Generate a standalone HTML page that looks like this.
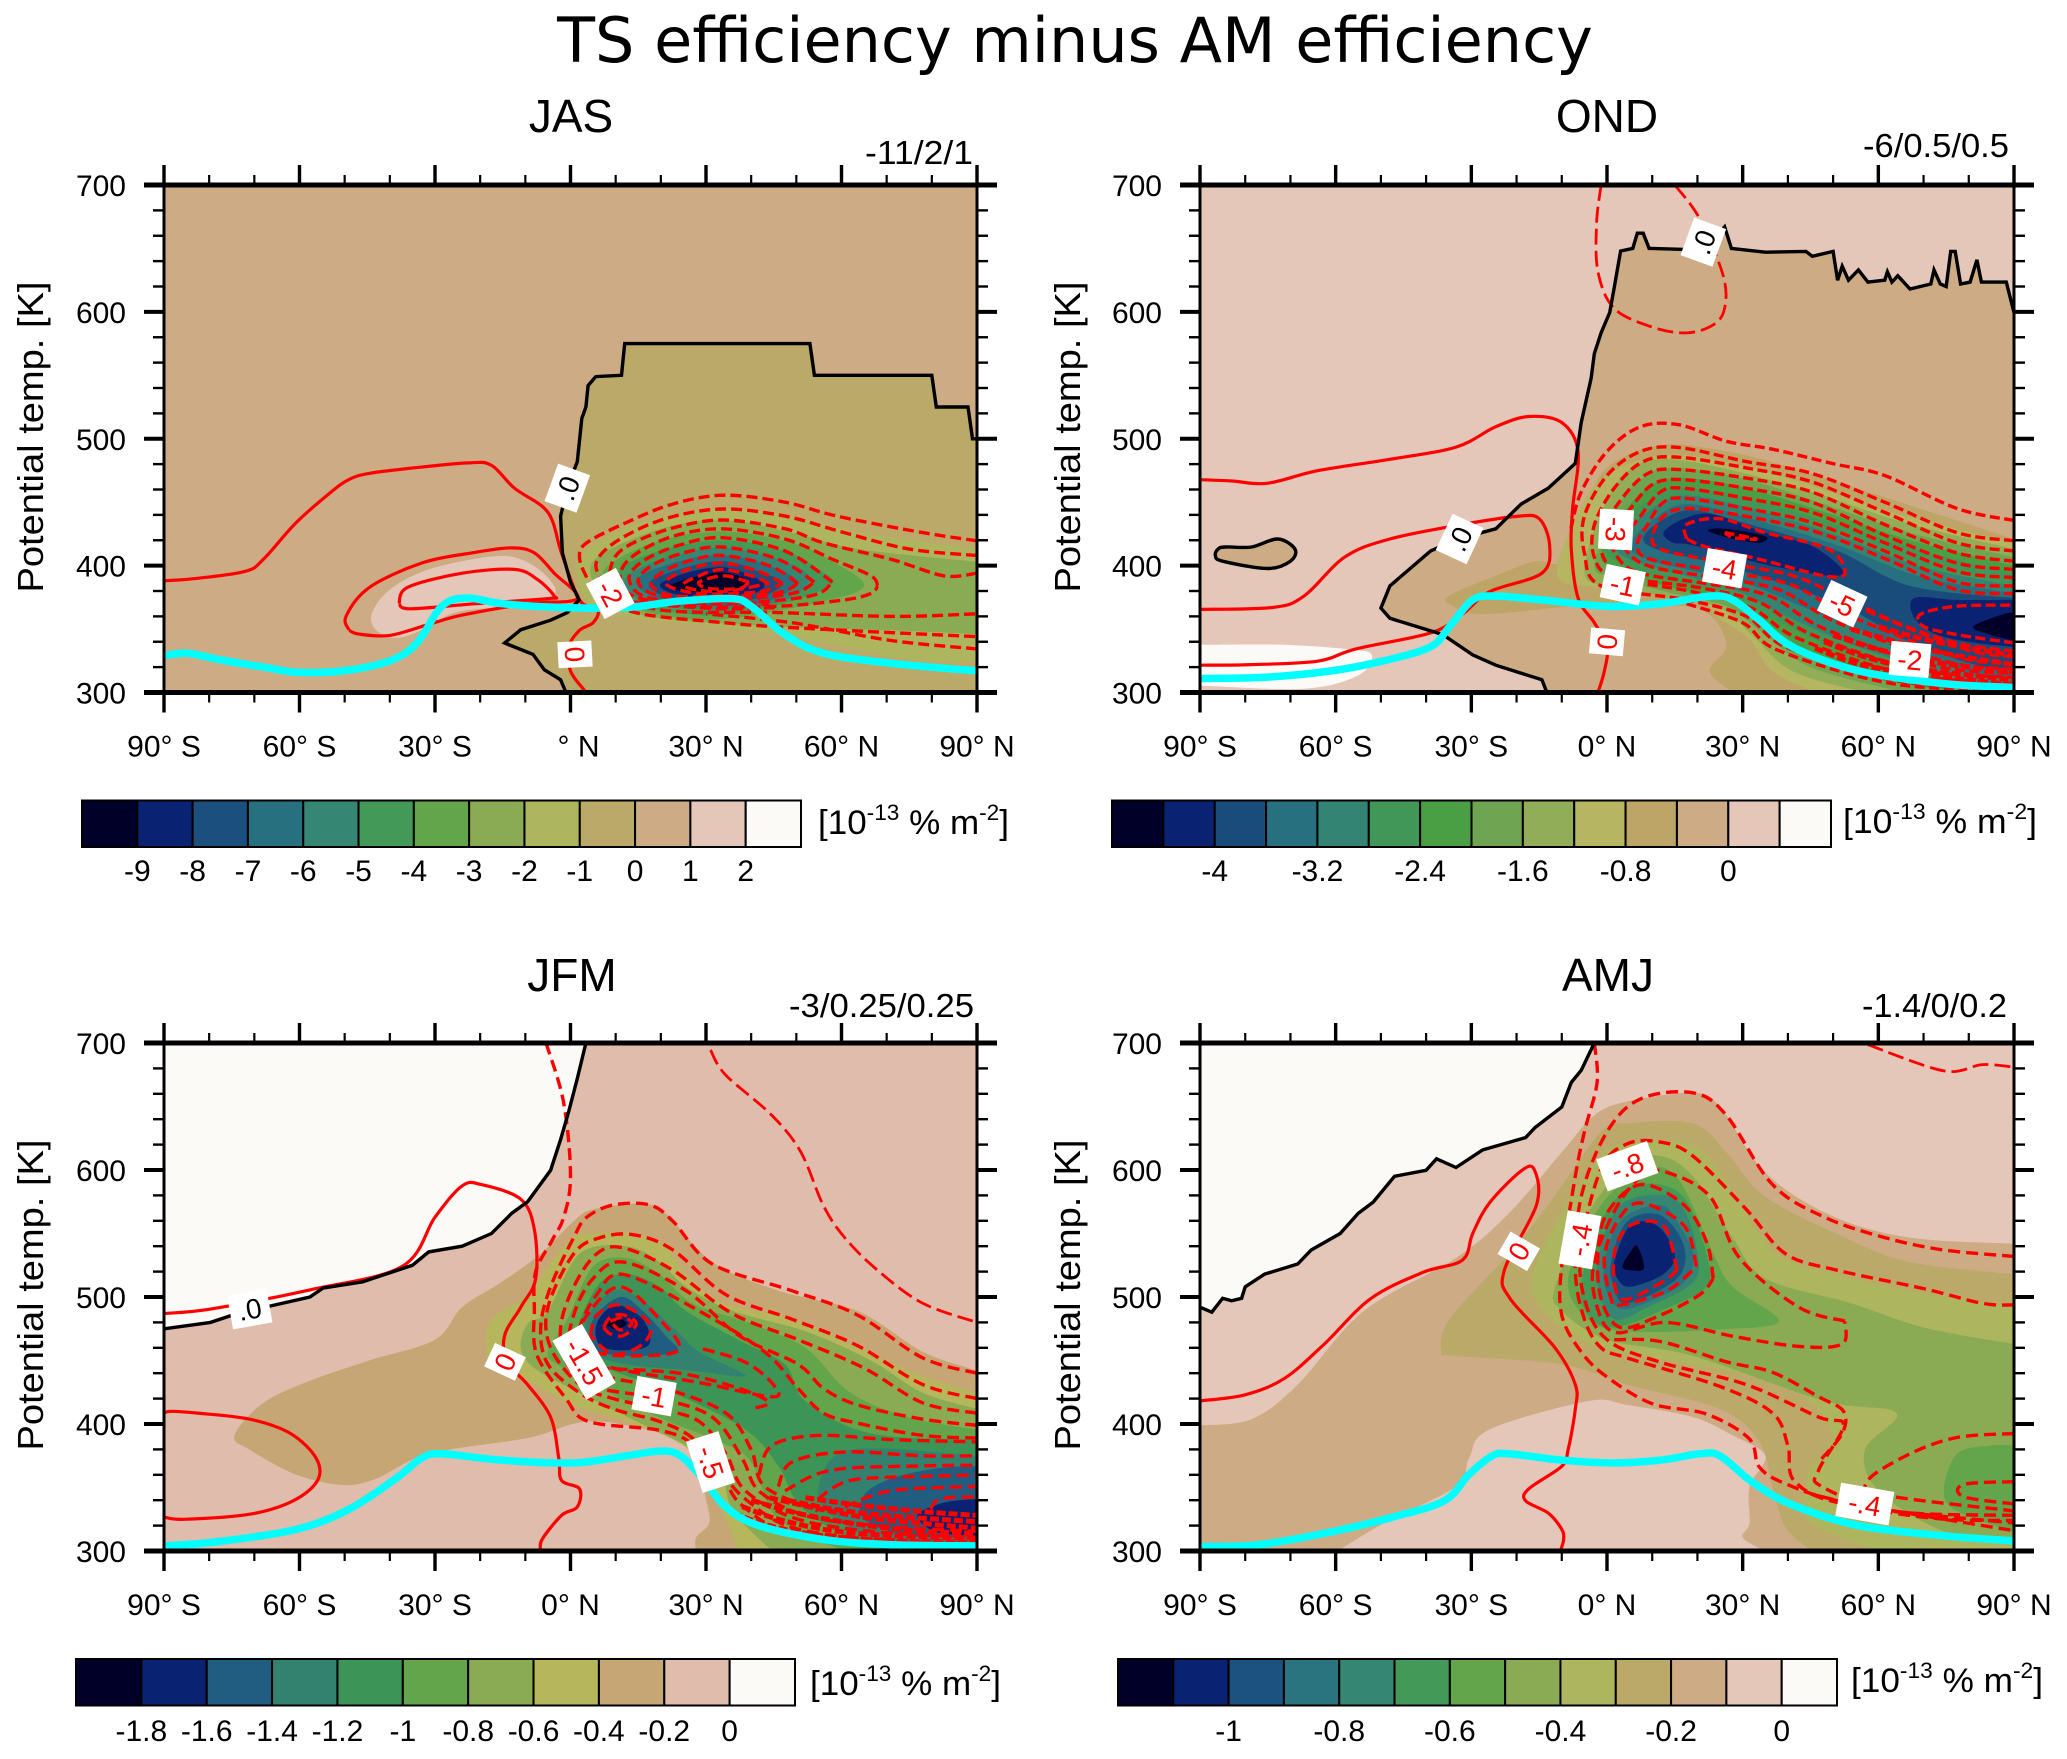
<!DOCTYPE html>
<html lang="en">
<head>
<meta charset="utf-8">
<title>TS efficiency minus AM efficiency</title>
<style>
html,body{margin:0;padding:0;background:#fff;}
svg{display:block;font-family:"Liberation Sans",sans-serif;}
</style>
</head>
<body>
<svg id="figure" xmlns="http://www.w3.org/2000/svg" width="2067" height="1759" viewBox="0 0 2067 1759">
<rect width="2067" height="1759" fill="#fff"/>
<text x="1075" y="62" text-anchor="middle" font-family="'DejaVu Sans',sans-serif" font-size="62" fill="#000">TS efficiency minus AM efficiency</text>
<text x="571" y="132" text-anchor="middle" font-size="46">JAS</text>
<text x="1607" y="132" text-anchor="middle" font-size="46">OND</text>
<text x="572" y="991" text-anchor="middle" font-size="46">JFM</text>
<text x="1608" y="991" text-anchor="middle" font-size="46">AMJ</text>
<text x="973" y="164" text-anchor="end" font-size="33" textLength="108" lengthAdjust="spacingAndGlyphs">-11/2/1</text>
<text x="2009" y="157" text-anchor="end" font-size="33" textLength="146" lengthAdjust="spacingAndGlyphs">-6/0.5/0.5</text>
<text x="974" y="1017" text-anchor="end" font-size="33" textLength="185" lengthAdjust="spacingAndGlyphs">-3/0.25/0.25</text>
<text x="2007" y="1017" text-anchor="end" font-size="33" textLength="145" lengthAdjust="spacingAndGlyphs">-1.4/0/0.2</text>
<text transform="translate(43,437) rotate(-90)" text-anchor="middle" font-size="36" textLength="311" lengthAdjust="spacingAndGlyphs">Potential temp. [K]</text>
<text transform="translate(1080,437) rotate(-90)" text-anchor="middle" font-size="36" textLength="311" lengthAdjust="spacingAndGlyphs">Potential temp. [K]</text>
<text transform="translate(43,1295) rotate(-90)" text-anchor="middle" font-size="36" textLength="311" lengthAdjust="spacingAndGlyphs">Potential temp. [K]</text>
<text transform="translate(1080,1295) rotate(-90)" text-anchor="middle" font-size="36" textLength="311" lengthAdjust="spacingAndGlyphs">Potential temp. [K]</text>
<text x="818" y="834" font-size="34" textLength="191" lengthAdjust="spacingAndGlyphs">[10<tspan dy="-14" font-size="22">-13</tspan><tspan dy="14"> % m</tspan><tspan dy="-14" font-size="22">-2</tspan><tspan dy="14">]</tspan></text>
<text x="1843" y="833" font-size="34" textLength="194" lengthAdjust="spacingAndGlyphs">[10<tspan dy="-14" font-size="22">-13</tspan><tspan dy="14"> % m</tspan><tspan dy="-14" font-size="22">-2</tspan><tspan dy="14">]</tspan></text>
<text x="810" y="1695" font-size="34" textLength="191" lengthAdjust="spacingAndGlyphs">[10<tspan dy="-14" font-size="22">-13</tspan><tspan dy="14"> % m</tspan><tspan dy="-14" font-size="22">-2</tspan><tspan dy="14">]</tspan></text>
<text x="1851" y="1692" font-size="34" textLength="192" lengthAdjust="spacingAndGlyphs">[10<tspan dy="-14" font-size="22">-13</tspan><tspan dy="14"> % m</tspan><tspan dy="-14" font-size="22">-2</tspan><tspan dy="14">]</tspan></text>
</svg>
<script>
/* ---------- shared axis data ---------- */
const latMajorTicks = [-90,-60,-30,0,30,60,90];
const latMinorTicks = [-80,-70,-50,-40,-20,-10,10,20,40,50,70,80];
const latTickLabels = ['90° S','60° S','30° S','0° N','30° N','60° N','90° N'];
const latTickLabelsJas = ['90° S','60° S','30° S','° N','30° N','60° N','90° N'];
const thetaMajorTicks = [300,400,500,600,700];
const thetaMinorTicks = [320,340,360,380,420,440,460,480,520,540,560,580,620,640,660,680];

/* ---------- JAS ---------- */
const jasBlack = [[-1,300],[-2.2,310],[-5.8,318],[-8.3,330],[-14.6,339],[-11,349.5],[-4.4,357],[-0.7,363],[1.9,373],[0,387],[-1.8,410],[-2.2,439],[-0.7,461],[1.5,482],[2.5,516],[3.4,525],[3.9,542],[5.6,549],[11.3,550],[12,575],[53,575],[54,550],[80,550],[81,525],[88,525],[89,500],[90,500]];
const jasPink = [[-43,349],[-44,362],[-40,381],[-31.4,397],[-18,407],[-11,405],[-5,390.6],[-4,376],[-15,368],[-25.6,363],[-33,349],[-38.7,343]];
const jasF1 = [[3,410],[14,432],[33,445],[49,439],[64,426],[90,413],[90,325],[75,326],[46,346],[12,360],[4,371],[1.5,394]];
const jasF2 = [[6,407],[20,429],[34,436],[49,426],[64,413],[90,403],[90,346],[71,349],[46,352],[20,358.5],[9.5,370],[5,387]];
const jasF3 = [[9,402],[20,420],[34,427],[49,418],[58,403.5],[65,384],[55,371],[34,358],[20,361],[10,373],[7,387]];
const jasF4 = [[11,397],[21,413],[34,420],[47.5,411.5],[55,397],[58,386],[50,373],[34,361],[20,365],[12,374.5]];
const jasF5 = [[12.5,392],[23,408],[34,414],[46,405],[53,390.6],[47.5,373],[34,365],[20,370],[14,376]];
const jasF6 = [[14.6,389],[24,403.5],[34,408],[44,400],[50,387.4],[44.6,373],[34,368],[20,373]];
const jasF7 = [[17.5,387],[25.6,398.6],[34,403.5],[42,395],[47,386],[41.6,374.6],[33,371],[21,376]];
const jasF8 = [[20,386],[27,395.5],[34,398.7],[40,392],[43,384],[39,376],[32,373],[22.7,378]];
const jasF9 = [[22,384],[28.5,392],[34,394.5],[39,389],[38,382.6],[33,379.4],[25.6,379.4]];
const jasFillColors = ['#e5c7b9','#adb65e','#8aab54','#63a54b','#439a58','#368674','#26707f','#1b4f7e','#0a2272','#000028'];
const jasFillShapes = [jasPink,jasF1,jasF2,jasF3,jasF4,jasF5,jasF6,jasF7,jasF8,jasF9];
const jasSolid1 = [[-90,388],[-82.6,390],[-72,395.5],[-68,405],[-60.7,434],[-53,458],[-49,468],[-44.6,472.7],[-35.8,476.6],[-22.6,481],[-17.5,479],[-12.4,461],[-5,442],[-2,410],[2,373],[6,365],[5,355],[2,349],[-0.4,336],[0,317],[3,302],[3.4,300]];
const jasSolid2 = [[-49,349],[-49.7,360],[-44.6,382.6],[-33,402],[-21,410.5],[-13,414],[-8,410],[-3.6,394],[1.5,374],[-9.5,370],[-24,361],[-31.4,353.7],[-40,345],[-46.8,346],[-49,349]];
const jasSolid3 = [[-38,370],[-36,383],[-24,394],[-12.4,397],[-7.3,389],[-3.6,376],[-5,374],[-21,370],[-35.4,366],[-38,370]];
const jasDash1 = [[90,419.6],[78,426],[59,439],[47.5,450],[34,455.5],[22.6,448.5],[12.4,434],[3.6,418],[2,406.7],[3.6,390.6],[6,378]];
const jasDash1b = [[90,334.4],[71,341],[49,355],[30,362]];
const jasDash2 = [[90,408],[75,413],[60.6,426],[47.5,439],[33.6,444.6],[21,437],[11,421],[6,405],[6.6,390.6],[12.4,365],[34,355],[53,350.4],[90,344]];
const jasDash3 = [[90,394],[82.6,392],[71,405],[56,418],[47.5,429],[33.6,436],[22,429],[12.4,415],[9,400],[10,381],[20,365],[46,363],[71,360],[90,362]];
const jasDash4 = [[68,384],[66.5,392],[58,405],[47.5,421],[33.6,429],[22.6,423],[14,408],[11,392],[14,376],[27,368],[46,368],[60.6,373],[66.5,378],[68,384]];
const jasDash5 = [[58,387],[47.5,411.5],[33.6,422],[24,416],[16,403.5],[13,389],[17.5,374.5],[34,370],[53,376],[58,387]];
const jasDash6 = [[54,387],[46,405],[33.6,414.7],[25,410],[18,400],[15,387],[20,376],[34,373],[49,378],[54,387]];
const jasDash7 = [[50.4,386],[44,400],[33.6,408],[26,403.5],[20,394],[18,384],[24,376],[44.6,378],[50.4,386]];
const jasDash8 = [[47,386],[41.6,395.5],[33.6,402],[26,397],[21,386],[28.5,378],[41.6,379.4],[47,386]];
const jasDash9 = [[44,386],[40,392],[33.6,397],[28.5,392],[25,384],[33,379.4],[44,386]];
const jasDash10 = [[39.5,387],[34,392],[28.5,387],[30.7,382],[37.4,382],[39.5,387]];
const jasDash11 = [[11,373],[20,369],[34,366],[46,367]];
const jasDash12 = [[14,371],[26,372],[38,371],[44,369]];
const jasDashed = [jasDash1,jasDash1b,jasDash2,jasDash3,jasDash4,jasDash5,jasDash6,jasDash7,jasDash8,jasDash9,jasDash10,jasDash11,jasDash12];
const jasCyan = [[-90,329],[-84.7,331],[-78,326],[-68,320],[-60.7,316],[-50.5,317],[-40,325],[-34,339],[-28.5,368],[-23,374.5],[-15,370],[-2,367],[12.4,367],[24,372],[35.8,374],[40,368],[47.5,345.6],[56,331],[71,323],[90,317]];
const jasLabelText = ['.0','-2','0'];
const jasLabelLat = [-0.7,8.8,1];
const jasLabelTheta = [461,378,330];
const jasLabelAngle = [-70,62,87];
const jasLabelColor = ['#000','#f00','#f00'];
const jasColors = ['#000028','#0a2272','#1b4f7e','#26707f','#368674','#439a58','#63a54b','#8aab54','#adb65e','#baa968','#cdab84','#e5c7b9','#fbfaf7'];
const jasLegendLabels = ['-9','-8','-7','-6','-5','-4','-3','-2','-1','0','1','2'];
const jasLegendSlots = [1,2,3,4,5,6,7,8,9,10,11,12];

/* ---------- OND ---------- */
const ondBlack = [[-13.3,300],[-14.4,310],[-24.6,321.5],[-29.7,329.6],[-36.3,345.6],[-48,358.5],[-50,366.5],[-48,384],[-39,411.5],[-33,421],[-24.6,429],[-19,448.5],[-13,461],[-7,480.6],[-5.7,512.7],[-3.5,548],[-2.8,567],[-1.3,583.4],[0.6,599.5],[1.6,619],[3,648],[5.7,650],[6.7,662],[8,662],[9.3,650],[19,649],[24,659],[26,667],[27.5,650],[35,647],[44,647.7],[45.4,643.8],[50,647.7],[51,625],[52,636],[53.4,625],[55.6,633],[57.7,623.5],[61.4,625],[62,631.6],[63,623.5],[64.3,628.4],[67,618],[71.6,622],[72.3,633],[73.7,622],[75,620],[76,647.7],[77,647.7],[78.2,622],[80.3,623.5],[81.8,641],[82.8,623.5],[88.3,623.5],[90,599.5]];
const ondIsland = [[-86,413],[-84.4,414.7],[-78.6,414.7],[-72.8,421],[-69,413],[-70,403.5],[-75,397.7],[-85,403.5],[-86.6,408]];
const ondWhite = [[-90,337.6],[-71.7,337.6],[-57,334],[-52,329.6],[-55,313.5],[-67,303],[-90,305.5]];
const ondOlive = [[-35,376],[-24.6,392],[-16,403.5],[-10,403.5],[-5.7,439],[0,477],[12,495],[26.4,490],[41,477],[63,452],[90,421],[90,300],[27.8,300],[22.7,316.7],[26.4,336],[23.5,358.5],[17.6,368],[4.5,366.5],[-7,368],[-27.5,361.7],[-34,368]];
const ondF1 = [[-10.8,390.6],[-8,429],[-1.3,468],[12,487],[28,480.6],[44,464.5],[63,442],[90,418],[90,300],[46,300],[36.6,316.7],[31.5,342],[25,358],[19,374.5],[-1.3,382.6]];
const ondF2 = [[-5,397],[-1.3,442],[4.5,474],[13,484],[29,474],[46.8,456.5],[65.7,434],[90,413],[90,300],[57,300],[41,316.7],[32,345.6],[25,366.5],[12,376],[-1.3,384]];
const ondF3 = [[-2.8,400],[1.6,442],[7.4,468],[14.7,477],[31,468],[48,448.5],[67,426],[90,406.7],[90,300],[65.7,300],[45,320],[33.7,349],[26.4,368],[13,379.4],[1.6,390.6]];
const ondF4 = [[-1.3,410],[3,439],[9.6,463],[17,469],[31,461],[50,440],[69,418],[90,400],[90,304],[70,304],[48,326],[35,355],[28,371],[13,384],[1.6,397]];
const ondF5 = [[0,413],[5,439],[12,458],[17.6,461],[31.5,453],[51,432],[70,411.5],[90,394],[90,305.5],[77,307],[54,329.6],[36.6,358.5],[28,376],[12,390.6],[2.3,403.5]];
const ondF6 = [[2.3,416],[6.7,435.6],[13,451.6],[19,455],[32,445],[51,424],[68.7,400],[90,384],[90,308.7],[79,310],[57,334],[38.8,361.7],[28,381],[12,397],[3.8,407]];
const ondF7 = [[5,416],[10,435.6],[17.6,448.5],[32,437],[51,416],[68.7,392],[90,378],[90,313.5],[80.3,315],[61.4,342],[45,365],[30.8,386],[17.6,397],[9,405]];
const ondF8 = [[8,421],[12,435.6],[19,443.6],[32,432],[51,411.5],[67,384],[90,374.5],[90,320],[81.8,321.5],[65.7,342],[54,365],[38,387],[22,403.5],[12,411.5]];
const ondF9 = [[12.5,426],[17,437],[23.5,440.4],[35,426],[45,416],[52,397],[49,392],[33.7,402],[19,416],[14.7,418]];
const ondF10 = [[68,374.5],[77.4,373],[90,373],[90,336],[81.8,339],[73,345.6],[68,358.5]];
const ondF11 = [[22.3,427.5],[26.4,429],[35,423],[33.7,418],[28,421]];
const ondF12 = [[81,352],[87.6,361.7],[90,363],[90,340.8],[84.7,345.6]];
const ondFillColors = ['#fbfaf7','#bca566','#b5b562','#92ad58','#6fa552','#4a9e43','#409758','#348474','#26707f','#194b7b','#0a2272','#0a2272','#000028','#000028'];
const ondFillShapes = [ondWhite,ondOlive,ondF1,ondF2,ondF3,ondF4,ondF5,ondF6,ondF7,ondF8,ondF9,ondF10,ondF11,ondF12];
const ondSolid1 = [[-90,467.7],[-83,466.7],[-75,465],[-64,474.8],[-48,483.8],[-33.4,493.4],[-24.6,509.5],[-17.3,517.5],[-10,512.7],[-6.4,490],[-7.6,445],[-7.9,413],[-6.4,374.5],[-2.8,355],[0,336],[-0.6,316.7],[-2,300]];
const ondSolid2 = [[-90,365.5],[-74,367],[-67,376],[-58,406.7],[-48,421],[-32,432.4],[-20,438.8],[-15,437],[-12.7,416],[-14.4,394],[-26,379.4],[-32,361.7],[-39,347],[-55.5,334.4],[-64,324.7],[-78.6,322],[-90,321.5]];
const ondThin = [[-1.3,700],[-2.3,670],[-2,631.6],[1.6,602.7],[10,588],[17.6,583.4],[23.5,589.8],[26,602.7],[25.7,628.4],[20.5,673.4],[15,700]];
const ondDash1 = [[90,435.6],[77.4,445],[61.4,471],[49.7,480.6],[36.6,491.8],[26.4,498],[16,511],[7.4,509.5],[0,490],[-5.7,458],[-8,429]];
const ondDash1b = [[17.6,370],[30,355],[38,333],[63,307],[90,301]];
const ondDash2 = [[90,419.6],[77.4,426],[61.4,450],[45.3,472.7],[30.8,482],[16,493],[7.4,490],[0,471],[-5,439],[-5,410],[-1.3,384],[17.6,373],[30.8,360],[39.5,336],[62.8,310],[90,302]];
const ondDash3 = [[90,411.5],[77.4,418],[61.4,442],[45.3,466],[30.8,477],[16,485.4],[8,482],[1.6,461],[-2.8,432],[-2.8,406.7],[1.6,390.6],[19,379.4],[32,366.5],[42.4,342.4],[65.7,315],[90,307]];
const ondDash4 = [[90,403.5],[77.4,410],[61.4,432.4],[45.3,458],[30.8,469],[16,475.7],[9,472.6],[3,451.6],[-1,426],[-0.6,405],[4.5,390.6],[20.5,382.6],[33.7,371],[45.3,345.6],[68.7,318],[90,312]];
const ondDash5 = [[90,397],[77.4,402],[61.4,424],[45.3,450],[30.8,461],[17,467.7],[10.3,464.5],[5.2,445],[1.3,422.7],[2.3,406.7],[7.4,394],[22,385.8],[36,376],[48,350.4],[71.6,321.5],[90,315]];
const ondDash6 = [[90,390.6],[77.4,395.4],[61.4,418],[45.3,442],[30.8,453],[17,461],[11.8,458],[7.4,439],[3.8,421],[5.2,408],[10.3,398.6],[23.5,390.6],[38,381],[51,355],[74.5,324.7],[90,318.3]];
const ondDash7 = [[90,384],[77.4,387],[61.4,411.5],[45.3,434],[30.8,445],[17.6,453],[12.5,450],[9,432.4],[6.7,416.3],[9.6,405],[25,395.4],[40,385.8],[54,360],[77.4,328],[90,323]];
const ondDash8 = [[90,378],[77.4,381],[62.8,403.5],[46.8,426],[30.8,438.8],[18.4,445],[13,440.4],[10.3,426],[11.8,413],[26.4,402],[42.4,390.6],[57,365],[78.9,334.4],[90,328]];
const ondDash9 = [[17.6,421],[17.6,432.4],[25,437],[35,426],[49,413],[52.6,394],[48,392],[33.7,405],[22,414.7],[17.6,421]];
const ondDash10 = [[90,339],[77.4,345.6],[70,352],[69.4,361.7],[77.4,368],[90,368.8]];
const ondDash11 = [[26,426],[33,421],[28,422],[26,426]];
const ondDash12 = [[90,332.8],[77.4,339],[62.8,357],[48,384]];
const ondDashed = [ondDash1,ondDash1b,ondDash2,ondDash3,ondDash4,ondDash5,ondDash6,ondDash7,ondDash8,ondDash9,ondDash10,ondDash11,ondDash12];
const ondMass1 = [[46,335],[56,322],[70,314],[90,306]];
const ondMass2 = [[48,340],[58,327],[70,318],[90,310]];
const ondMass3 = [[50,345],[60,334],[72,324],[90,316]];
const ondMass4 = [[54,350],[64,340],[76,330],[90,322]];
const ondMass5 = [[60,352],[70,342],[80,335],[90,329]];
const ondMass = [ondMass1,ondMass2,ondMass3,ondMass4,ondMass5];
const ondCyan = [[-90,311],[-75.7,312],[-61,317],[-49.4,325],[-39,336],[-34.8,352],[-29.7,373],[-24.6,376],[-14.4,373],[0,368],[11.8,370],[22.7,376],[27.8,373],[33.7,357],[41,336],[55.6,317],[74.5,307],[90,304]];
const ondLabelText = ['.0','.0','0','-3','-1','-4','-5','-2'];
const ondLabelLat = [21.3,-32.6,0,2,3.5,26,52,67];
const ondLabelTheta = [655,421,340,428.5,385,398,370,326];
const ondLabelAngle = [-70,-65,-85,93,12,10,25,5];
const ondLabelColor = ['#000','#000','#f00','#f00','#f00','#f00','#f00','#f00'];
const ondColors = ['#000028','#0a2272','#194b7b','#26707f','#348474','#409758','#4a9e43','#6fa552','#92ad58','#b5b562','#bca566','#cdab84','#e5c7b9','#fbfaf7'];
const ondLegendLabels = ['-4','-3.2','-2.4','-1.6','-0.8','0'];
const ondLegendSlots = [2,4,6,8,10,12];

/* ---------- JFM ---------- */
const jfmBlack = [[-90,475],[-79.7,480],[-73.8,487],[-57.7,500],[-54.8,507],[-46,512],[-35,525],[-31.4,535.5],[-24,540],[-17.5,550],[-13,566],[-9.5,575],[-4.4,599.8],[-2.2,624],[-0.4,646],[1.5,672],[3.4,700]];
const jfmTan = [[-74.4,391],[-68,416.6],[-57.7,434],[-44.6,450],[-30,466.4],[-24,492],[-15.4,511.4],[-6.6,534],[0.7,559.6],[5,569],[15.4,573.4],[21,566],[31.4,527.5],[46,505],[63.6,489],[78,456.8],[90,442],[90,300],[27.8,300],[27.8,310.6],[30.7,322],[30,341],[28,370],[27,384.5],[16.8,395.7],[3.6,402],[-9.5,389],[-31.4,376.5],[-43,357],[-50.4,352],[-60.7,360],[-71,379.7]];
const jfmF1 = [[-18.6,456.8],[-17.5,482.5],[-9.5,502],[-0.7,543.5],[5,550],[14,550],[21,540],[25.6,518],[34,495],[49,482.5],[63.6,460],[78,437.5],[90,424.6],[90,300],[37.3,300],[34.4,325],[28.5,370],[22.7,387.7],[12.4,402],[0.7,415],[-9.5,434],[-16.8,447]];
const jfmF2 = [[-11,460],[-9.5,479],[-5,489],[2,534],[12.4,540],[19.7,527.5],[25.6,508],[36,489],[52,473],[66.5,450],[78,424.6],[90,412],[90,300],[44.6,300],[36,331.5],[33,363.6],[25.6,383],[15.4,400.6],[2,424.6],[-8,444]];
const jfmF3 = [[-5,456.8],[-0.7,482.5],[5,524],[12.4,530.7],[19.7,518],[27,495],[40,479],[52,460],[62,424.6],[75.3,405],[90,395.7],[90,300],[60.7,300],[46,325],[40,370],[33,386],[19.7,405],[5,431],[-3,447]];
const jfmF4 = [[0.7,460],[5.8,508],[12.4,518],[19.7,508],[25.6,489],[37.3,466],[47.5,447],[52,418],[66.5,392.5],[90,387.7],[90,302.6],[68,302.6],[52,331.5],[46,367],[38.7,395.7],[22.7,424.6],[8,444]];
const jfmF5 = [[3.6,482.5],[9.5,505],[15.4,498.6],[22.7,476],[28.5,456.8],[38.7,438],[27,442],[12.4,447],[5,456.8]];
const jfmF6 = [[62,379.7],[90,375],[90,307],[71,306],[57.7,328],[55,351]];
const jfmF7 = [[5,482.5],[11,500],[16,489],[21,469.6],[23.4,456.8],[12.4,453.6],[5,460]];
const jfmF8 = [[65,344],[71,357],[81,365],[90,367],[90,310.6],[75,312],[65,325]];
const jfmF9 = [[5.8,479],[10,493.7],[16,482.5],[17.5,463],[12.4,458],[6.6,461.6]];
const jfmF10 = [[76.8,328],[82.6,338],[90,341],[90,312],[81,315]];
const jfmF11 = [[8,479],[10,484],[12.4,479],[10,474.5]];
const jfmFillColors = ['#c6a674','#b6b75c','#8aab54','#63a54b','#3d9457','#33826f','#33826f','#215d80','#215d80','#0a2272','#0a2272','#000028'];
const jfmFillShapes = [jfmTan,jfmF1,jfmF2,jfmF3,jfmF4,jfmF5,jfmF6,jfmF7,jfmF8,jfmF9,jfmF10,jfmF11];
const jfmSolid1 = [[-90,487],[-79.7,490.5],[-57.7,505.6],[-37.3,524],[-30,562.8],[-24,587.5],[-19.7,588.5],[-11,577],[-8,553],[-7.7,514.6],[-11,492],[-14.6,469.6],[-14,448.7],[-9.5,431],[-4.4,405.4],[-2.6,373],[-2,355.6],[2,349],[1.5,334.7],[-2,328],[-6.3,309],[-6.6,300]];
const jfmSolid2 = [[-90,408.6],[-88.4,410],[-82.6,408.6],[-71,403.8],[-62,392.5],[-56.3,373],[-56,355.6],[-61.4,339.5],[-71,329],[-85.5,325],[-90,326.7]];
const jfmThin1 = [[31,694.5],[34.3,675],[44.6,643],[51,614],[56,572],[60.7,546.8],[68,521],[78,495],[90,480]];
const jfmThin2 = [[-5.4,700],[-1.5,652.8],[0,595],[-1.5,562.8],[-4,545],[-7.7,520],[-8,490],[-7.5,455],[-1,420],[4,402],[19.7,395],[27,384],[34,355],[38,336],[48,315],[70,305],[90,303]];
const jfmDash2 = [[90,440],[78,452],[63.6,485.7],[49,505],[31.4,526],[22.7,559.6],[17.5,572.5],[9.5,572.5],[3.6,562.8],[0.7,546.8],[-4.4,508],[-6.6,476],[-5,447],[2,424.6],[9.5,411.8],[19.7,402],[27,389],[33,363.6],[38.7,341],[49,318.6],[68,309],[90,305.8]];
const jfmDash3 = [[90,420],[78,431],[63.6,461.6],[49,482.5],[34.4,501.8],[22.7,537],[14,549],[6.6,546.8],[0.7,534],[-5,492],[-4.4,460],[2,431],[9.5,420],[19.7,411.8],[28.5,402],[34.4,376.5],[38.7,347.5],[50.4,325],[68,315],[90,310.6]];
const jfmDash4 = [[90,408.6],[78,416.6],[65,444],[50.4,466.4],[35.8,487],[22.7,521],[11.7,538.7],[5.8,534],[0.7,508],[-2.2,476],[-0.7,447],[5,429.5],[19.7,420],[31.4,405.4],[38,373],[41.7,347.5],[51.9,328],[68,320],[90,315.4]];
const jfmDash5 = [[90,399],[78,403.8],[63.6,415],[56,428],[50.4,447],[37.3,469.6],[25.6,505],[11.7,527.5],[5,514.6],[0.7,485.7],[0,453.6],[8,437.5],[21,427.9],[34.4,408.6],[40,379.7],[43,350.8],[54.8,331.5]];
const jfmDash6 = [[90,389],[78,391],[63.6,400.6],[56,408.6],[50.4,427.9],[43,456.8],[28.5,489],[11.7,517.8],[5.8,501.8],[2,476],[1.5,456.8],[9.5,444],[28.5,432.7],[44.6,421.4],[44.9,431],[38.7,448.7],[28.5,460]];
const jfmDash7 = [[41.7,360],[44.6,383],[54.8,391],[71,387.7],[90,386]];
const jfmDash8 = [[46,350.8],[49,370],[60.7,378],[78,375],[90,375]];
const jfmDash9 = [[47.5,347.5],[57.7,363.6],[78,367],[90,367.5]];
const jfmDash10 = [[54.8,341],[62,355.6],[78,358.8],[90,359.8]];
const jfmDash11 = [[60.7,334.7],[71,347.5],[90,350.8]];
const jfmDash12 = [[79.7,333],[81.9,341],[90,342.7]];
const jfmDash13 = [[2.2,466.4],[3.6,485.7],[11,508],[19.7,482.5],[24,458.4],[13.9,453.6],[5,456.8],[2.2,466.4]];
const jfmDash14 = [[4.4,469.6],[5.8,485.7],[11,493.7],[17.5,479],[16,463],[9.5,455],[4.4,469.6]];
const jfmDash15 = [[7.3,476],[8.8,484],[11.7,486],[14.6,479],[11.7,469.6],[8.8,471],[7.3,476]];
const jfmDash16 = [[8.8,481],[11.7,484],[13.6,479],[11,474],[8.8,481]];
const jfmDash17 = [[6,444],[24,440],[37.3,428],[43.9,417],[40,412]];
const jfmDashed = [jfmThin2,jfmDash2,jfmDash3,jfmDash4,jfmDash5,jfmDash6,jfmDash7,jfmDash8,jfmDash9,jfmDash10,jfmDash11,jfmDash12,jfmDash13,jfmDash14,jfmDash15,jfmDash16,jfmDash17];
const jfmMass1 = [[36,330],[44,320],[56,312],[72,308],[90,307]];
const jfmMass2 = [[38,335],[46,325],[58,316],[72,312],[90,310]];
const jfmMass3 = [[40,340],[50,330],[62,322],[76,316],[90,314]];
const jfmMass4 = [[44,342],[54,334],[66,326],[80,321],[90,318]];
const jfmMass5 = [[48,340],[58,333],[70,328],[90,323]];
const jfmMass6 = [[52,342],[64,336],[78,331],[90,328]];
const jfmMass = [jfmMass1,jfmMass2,jfmMass3,jfmMass4,jfmMass5,jfmMass6];
const jfmCyan = [[-90,304],[-78,307.4],[-60.7,317],[-49,333],[-38.7,357],[-33,373],[-28.5,376.5],[-15.4,371.6],[0.7,369.4],[12.4,375],[19.7,378.7],[24,375.8],[28.5,360.4],[34.4,334.7],[41.7,320],[56,309],[71,305],[90,304]];
const jfmLabelText = ['.0','0','-1.5','-1','-.5'];
const jfmLabelLat = [-71,-14.5,3,18.5,31];
const jfmLabelTheta = [490.5,449,449,422,370];
const jfmLabelAngle = [-10,-65,60,10,72];
const jfmLabelColor = ['#000','#f00','#f00','#f00','#f00'];
const jfmColors = ['#000028','#0a2272','#215d80','#33826f','#3d9457','#63a54b','#8aab54','#b6b75c','#c6a674','#dfbcab','#fbfaf7'];
const jfmLegendLabels = ['-1.8','-1.6','-1.4','-1.2','-1','-0.8','-0.6','-0.4','-0.2','0'];
const jfmLegendSlots = [1,2,3,4,5,6,7,8,9,10];

/* ---------- AMJ ---------- */
const amjBlack = [[-90,492],[-87.4,488],[-85,499],[-83,497],[-80.8,499],[-80,508],[-75.7,518],[-68.4,526],[-65.4,537],[-59,550],[-55,566],[-51.7,574.7],[-47,595],[-40,599.8],[-37.7,608.8],[-33.4,602],[-27.5,615.8],[-18,625.5],[-15.9,633.5],[-10,649.6],[-7.9,669],[-5.7,678.5],[-2.8,700]];
const amjTan = [[-90,399],[-78.6,403.8],[-68.4,431],[-53.8,489],[-33.4,530.7],[-21.7,566],[-10,614],[-2.8,643],[4.5,654],[19,660.8],[25,649.6],[35,598],[49.7,564],[67,546.8],[90,542],[90,300],[35,300],[30,310.6],[31.5,322],[31.5,350.8],[35,374.9],[27.8,391],[19,405.4],[4.5,415],[-4.2,418],[-26,395.7],[-30.5,373],[-33.4,350.8],[-49.4,321.8],[-59.6,300],[-90,300]];
const amjF1 = [[-36.6,456.8],[-34.8,482.5],[-21.7,534],[-13,572.5],[-1.3,630],[4.5,636.7],[19,636.7],[26.4,614],[35,579],[52.6,546.8],[67,527.5],[90,517.8],[90,300],[45.3,300],[39.5,318.6],[36.6,350.8],[33.7,386],[25,411.8],[4.5,431],[-10,447],[-33.4,453.6]];
const amjF2 = [[-16.6,514.6],[-10,566],[-1.3,611],[4.5,620.6],[17.6,620.6],[25,598],[33.7,550],[41,527.5],[62.8,508],[90,492],[90,300],[60,300],[45.3,321.8],[44,350.8],[45.3,366.8],[49.7,392.5],[41,428],[19,447],[-1.3,460],[-13,485.7]];
const amjF3 = [[-11.5,508],[-4.2,566],[4.5,604.6],[11.8,611],[19,595],[27.8,546.8],[35,514.6],[54,495],[70,476],[90,463],[90,305.8],[74.5,315.4],[60,347.5],[57,379.7],[64,408.6],[48,418.2],[19,453.6],[0,466.4],[-10,489]];
const amjF4 = [[-8.6,514.6],[-1.3,572.5],[9,601],[16,591.7],[23.5,534],[27.8,508],[38,481],[25,474.5],[4.5,472.8],[-4.2,482.5]];
const amjF5 = [[74.5,347.5],[77.4,376.5],[84.7,383],[90,383],[90,315],[77.4,331.5]];
const amjF6 = [[-5.7,511.4],[-1.3,559.6],[4.5,585],[11.8,588.5],[17.6,575.6],[22,534],[22,508],[11.8,489],[1.6,476],[-4.2,485.7]];
const amjF7 = [[-2,508],[-1.3,540],[3,572.5],[11.8,580.5],[17,569],[20,534],[19,511.4],[9,492],[1.6,482.5]];
const amjF8 = [[-0.6,511.4],[0,537],[3.8,562.8],[11.8,572.5],[15.5,559.6],[19,534],[17,511.4],[7.4,493.7],[2.3,492]];
const amjF9 = [[1.6,508],[0.9,527.5],[4.5,559.6],[11.8,564.4],[17,540.3],[15.5,514.6],[4.5,495]];
const amjF10 = [[1.6,527.5],[5.2,556.4],[11,556.4],[15,534],[12.5,518],[5.2,508],[2.3,514.6]];
const amjF11 = [[3.4,524],[5.2,535.5],[6.7,540],[8.2,522.6],[5.2,521]];
const amjFillColors = ['#cdab84','#baa968','#adb65e','#8aab54','#63a54b','#63a54b','#439a58','#368674','#2a7480','#1c5280','#0a2272','#000028'];
const amjFillShapes = [amjTan,amjF1,amjF2,amjF3,amjF4,amjF5,amjF6,amjF7,amjF8,amjF9,amjF10,amjF11];
const amjSolid1 = [[-90,418.2],[-80,423],[-71.3,436],[-62.5,463],[-52.3,498.6],[-40.7,519.4],[-32,529],[-29.7,550],[-26,574],[-18.8,599.8],[-16,599.8],[-15.6,572.5],[-22.7,521],[-21.4,498.6],[-11.5,460],[-7,431],[-7,411.8],[-8.6,379.7],[-10,366.8],[-17.3,349],[-18,339.5],[-13,329.9],[-10,317],[-9.6,309],[-10.3,300]];
const amjDash1 = [[-2.8,700],[-2.2,669],[-5,630],[-7,595],[-10,525],[-10,485.7],[-5.7,456.8],[0,437],[10,416],[22,407.8],[31.4,388.6],[33.7,366],[39.5,353],[52.6,338.6],[90,316]];
const amjDash2 = [[90,532],[74.5,537],[61.4,546.8],[48,563],[36.6,588.5],[26.4,643],[19,660.8],[7.4,656],[0,630],[-5.7,579],[-7,521],[-5,482.5],[-1.3,460],[4.5,452],[25,429.5],[36.6,408.6],[40,383],[41.7,354],[54,336],[90,322]];
const amjDash3 = [[90,493.7],[83,495],[70,506.6],[51,521],[39.5,534],[30.8,569],[19,611],[11.8,622],[4.5,620.6],[-1.3,601],[-5.7,540],[-5,498.6],[0,466.4],[11.8,448.7],[30.8,431],[46.8,405.4],[52.3,399],[46.8,363.6],[47.5,350.8],[62.8,331.5],[90,328]];
const amjDash4 = [[52.6,481],[42.4,492],[29.3,530.7],[22.8,579],[13.3,598],[8,596],[2,570],[-3,525],[-2,490],[2,472],[13,480],[28,469],[42.7,461],[52,463],[52.6,481]];
const amjDash5 = [[23.5,514.6],[22,543.5],[17,572.5],[7.4,588.5],[0,566],[-2,534],[-1.3,498.6],[3,476],[11.8,485.7],[20.5,501.8],[23.5,514.6]];
const amjDash6 = [[19.8,524],[17,556.4],[7.4,574],[2.3,559.6],[-0.6,530.7],[0.9,498.6],[3,493.7],[13.3,505],[19.8,524]];
const amjDash7 = [[15.5,521],[12.5,556],[5.2,556.4],[1.6,534],[3,498.6],[11.8,511],[15.5,521]];
const amjDash8 = [[1.6,466.4],[11.8,465],[26.4,449],[36.6,440.7],[46.8,421.4],[52.3,410],[52,392.5],[46.8,370]];
const amjDash9 = [[90,392.5],[77.4,389.4],[67,376.5],[57.7,355.6],[61.4,344],[90,331.5]];
const amjDash10 = [[90,354.6],[78.9,352.4],[78.9,342.7],[90,337]];
const amjDash11 = [[45,345],[60,332],[75,325],[90,324]];
const amjDashed = [amjDash1,amjDash2,amjDash3,amjDash4,amjDash5,amjDash6,amjDash7,amjDash8,amjDash9,amjDash10,amjDash11];
const amjThin = [[57.7,698.7],[74.5,678],[83,683],[90,681]];
const amjCyan = [[-90,303.5],[-77,305],[-60.5,315.4],[-47.4,326.7],[-36,339.5],[-30.5,360.4],[-25.4,374.9],[-21.7,376.5],[-10,371.6],[1.6,369.4],[11.8,371.6],[20.5,376.5],[25,374.9],[32.2,354],[41,336.3],[55.6,320],[74.5,312],[90,308]];
const amjLabelText = ['0','-.4','-.8','-.4'];
const amjLabelLat = [-19.5,-6,4.5,57];
const amjLabelTheta = [536,545,603,337];
const amjLabelAngle = [-60,-80,-20,10];
const amjLabelColor = ['#f00','#f00','#f00','#f00'];
const amjColors = ['#000028','#0a2272','#1c5280','#2a7480','#368674','#439a58','#63a54b','#8aab54','#adb65e','#baa968','#cdab84','#e5c7b9','#fbfaf7'];
const amjLegendLabels = ['-1','-0.8','-0.6','-0.4','-0.2','0'];
const amjLegendSlots = [2,4,6,8,10,12];

/* ---------- rendering ---------- */
const NS = 'http://www.w3.org/2000/svg';
const fig = document.getElementById('figure');
const latMin = -90, latMax = 90, thetaMin = 300, thetaMax = 700;

function mk(tag, parent) {
  const el = document.createElementNS(NS, tag);
  parent.appendChild(el);
  return el;
}
function onEdge(p, q) {
  return (p[0] === q[0] && (p[0] === latMin || p[0] === latMax)) ||
         (p[1] === q[1] && (p[1] === thetaMin || p[1] === thetaMax));
}
function curve(points, xs, ys, closed, smooth) {
  const px = points.map(p => [xs(p[0]), ys(p[1])]);
  const n = px.length;
  const at = i => closed ? px[(i + n) % n] : px[Math.max(0, Math.min(n - 1, i))];
  const raw = i => points[(i + n) % n];
  let d = 'M' + px[0][0].toFixed(1) + ' ' + px[0][1].toFixed(1);
  const last = closed ? n : n - 1;
  for (let i = 0; i < last; i++) {
    const p1 = at(i), p2 = at(i + 1);
    let p0 = at(i - 1), p3 = at(i + 2);
    if (!smooth || onEdge(raw(i), raw(i + 1))) {
      d += 'L' + p2[0].toFixed(1) + ' ' + p2[1].toFixed(1);
    } else {
      if (onEdge(raw(i - 1), raw(i))) p0 = p1;
      if (onEdge(raw(i + 1), raw(i + 2))) p3 = p2;
      const c1x = p1[0] + (p2[0] - p0[0]) / 6, c1y = p1[1] + (p2[1] - p0[1]) / 6;
      const c2x = p2[0] - (p3[0] - p1[0]) / 6, c2y = p2[1] - (p3[1] - p1[1]) / 6;
      d += 'C' + c1x.toFixed(1) + ' ' + c1y.toFixed(1) + ' ' + c2x.toFixed(1) + ' ' + c2y.toFixed(1) + ' ' + p2[0].toFixed(1) + ' ' + p2[1].toFixed(1);
    }
  }
  return d + (closed ? 'Z' : '');
}
function drawPanel(o) {
  const g = mk('g', fig);
  
  
  const L = o.left, R = o.right, T = o.top, B = o.bottom;
  const xs = v => L + (v - latMin) / (latMax - latMin) * (R - L);
  const ys = v => B - (v - thetaMin) / (thetaMax - thetaMin) * (B - T);

  const clip = mk('clipPath', g);
  clip.setAttribute('id', 'clip-' + o.id);
  const cr = mk('rect', clip);
  cr.setAttribute('x', L); cr.setAttribute('y', T);
  cr.setAttribute('width', R - L); cr.setAttribute('height', B - T);

  const plot = mk('g', g);
  plot.setAttribute('clip-path', 'url(#clip-' + o.id + ')');
  
  

  const bg = mk('rect', plot);
  bg.setAttribute('x', L); bg.setAttribute('y', T);
  bg.setAttribute('width', R - L); bg.setAttribute('height', B - T);
  bg.setAttribute('fill', o.background);
  
  

  const region = mk('path', plot);
  region.setAttribute('d', curve(o.black.concat(o.blackClosure), xs, ys, true, false));
  region.setAttribute('fill', o.blackFill);
  
  

  o.fillShapes.forEach((shape, i) => {
    const f = mk('path', plot);
    f.setAttribute('d', curve(shape, xs, ys, true, true));
    f.setAttribute('fill', o.fillColors[i]);
    
    
  });

  (o.extraBlack || []).forEach(shape => {
    const f = mk('path', plot);
    f.setAttribute('d', curve(shape, xs, ys, true, true));
    f.setAttribute('fill', o.islandFill);
    f.setAttribute('stroke', '#000');
    f.setAttribute('stroke-width', '3.4');
    
    
  });

  (o.mass || []).forEach(line => {
    const c = mk('path', plot);
    c.setAttribute('d', curve(line, xs, ys, false, true));
    c.setAttribute('fill', 'none');
    c.setAttribute('stroke', '#f00');
    c.setAttribute('stroke-width', '5');
    c.setAttribute('stroke-dasharray', '9 3');
    
    
  });
  (o.dashed || []).forEach(line => {
    const c = mk('path', plot);
    c.setAttribute('d', curve(line, xs, ys, false, true));
    c.setAttribute('fill', 'none');
    c.setAttribute('stroke', '#f00');
    c.setAttribute('stroke-width', '3.4');
    c.setAttribute('stroke-dasharray', o.dash);
    
    
  });
  (o.thin || []).forEach(line => {
    const c = mk('path', plot);
    c.setAttribute('d', curve(line, xs, ys, false, true));
    c.setAttribute('fill', 'none');
    c.setAttribute('stroke', '#f00');
    c.setAttribute('stroke-width', '2.8');
    c.setAttribute('stroke-dasharray', '16 6');
    
    
  });
  o.solid.forEach(line => {
    const c = mk('path', plot);
    c.setAttribute('d', curve(line, xs, ys, false, true));
    c.setAttribute('fill', 'none');
    c.setAttribute('stroke', '#f00');
    c.setAttribute('stroke-width', '3.2');
    
    
  });
  const blk = mk('path', plot);
  blk.setAttribute('d', curve(o.black, xs, ys, false, false));
  blk.setAttribute('fill', 'none');
  blk.setAttribute('stroke', '#000');
  blk.setAttribute('stroke-width', '3.4');
  
  

  const cy = mk('path', plot);
  cy.setAttribute('d', curve(o.cyan, xs, ys, false, true));
  cy.setAttribute('fill', 'none');
  cy.setAttribute('stroke', '#00ffff');
  cy.setAttribute('stroke-width', '7.5');
  
  

  o.labelText.forEach((t, i) => {
    const lg = mk('g', plot);
    lg.setAttribute('transform', 'translate(' + xs(o.labelLat[i]).toFixed(1) + ',' + ys(o.labelTheta[i]).toFixed(1) + ') rotate(' + o.labelAngle[i] + ')');
    
    
    const w = t.length * 14 + 12;
    const r = mk('rect', lg);
    r.setAttribute('x', -w / 2); r.setAttribute('y', -17);
    r.setAttribute('width', w); r.setAttribute('height', 34);
    r.setAttribute('fill', '#fff');
    const tx = mk('text', lg);
    tx.setAttribute('text-anchor', 'middle');
    tx.setAttribute('y', 10);
    tx.setAttribute('font-size', '28');
    tx.setAttribute('fill', o.labelColor[i]);
    tx.textContent = t;
  });

  /* axes */
  const axes = mk('g', g);
  
  
  const line = (x1, y1, x2, y2, w, name) => {
    const l = mk('line', axes);
    l.setAttribute('x1', x1); l.setAttribute('y1', y1);
    l.setAttribute('x2', x2); l.setAttribute('y2', y2);
    l.setAttribute('stroke', '#000'); l.setAttribute('stroke-width', w);
    
    
  };
  latMajorTicks.forEach((v, i) => {
    line(xs(v), T - 20, xs(v), T, 3.4, 'x-major-tick-top');
    line(xs(v), B, xs(v), B + 20, 3.4, 'x-major-tick-bottom');
    const t = mk('text', axes);
    t.setAttribute('x', xs(v) + (o.latLabels[i] === '° N' ? 8 : 0));
    t.setAttribute('y', B + 64);
    t.setAttribute('text-anchor', 'middle');
    t.setAttribute('font-size', '30');
    
    
    t.textContent = o.latLabels[i];
  });
  latMinorTicks.forEach(v => {
    line(xs(v), T - 10, xs(v), T, 2.2, 'x-minor-tick-top');
    line(xs(v), B, xs(v), B + 10, 2.2, 'x-minor-tick-bottom');
  });
  thetaMajorTicks.forEach(v => {
    const w = (v === thetaMin || v === thetaMax) ? 5 : 4;
    line(L - 20, ys(v), L, ys(v), w, 'y-major-tick-left');
    line(R, ys(v), R + 20, ys(v), w, 'y-major-tick-right');
    const t = mk('text', axes);
    t.setAttribute('x', L - 38);
    t.setAttribute('y', ys(v) + 11);
    t.setAttribute('text-anchor', 'end');
    t.setAttribute('font-size', '30');
    
    
    t.textContent = String(v);
  });
  thetaMinorTicks.forEach(v => {
    line(L - 11, ys(v), L, ys(v), 2.4, 'y-minor-tick-left');
    line(R, ys(v), R + 11, ys(v), 2.4, 'y-minor-tick-right');
  });
  line(L, T, R, T, 5, 'frame-top');
  line(L, B, R, B, 5, 'frame-bottom');
  line(L, T, L, B, 3, 'frame-left');
  line(R, T, R, B, 3, 'frame-right');

  /* colour bar */
  const bar = mk('g', g);
  
  
  const bw = (o.barRight - o.barLeft) / o.barColors.length;
  const slotX = s => o.barLeft + s * bw;
  o.barColors.forEach((c, i) => {
    const r = mk('rect', bar);
    r.setAttribute('x', slotX(i)); r.setAttribute('y', o.barTop);
    r.setAttribute('width', bw); r.setAttribute('height', o.barBottom - o.barTop);
    r.setAttribute('fill', c);
    r.setAttribute('stroke', '#000');
    r.setAttribute('stroke-width', '2');
    
    
  });
  o.barLabels.forEach((t, i) => {
    const x = mk('text', bar);
    x.setAttribute('x', slotX(o.barSlots[i]));
    x.setAttribute('y', o.barBaseline);
    x.setAttribute('text-anchor', 'middle');
    x.setAttribute('font-size', '30');
    
    
    x.textContent = t;
  });
}

drawPanel({id:'jas',left:164,right:977,top:185,bottom:692.5,background:'#cdab84',black:jasBlack,blackClosure:[[90,300]],blackFill:'#baa968',fillShapes:jasFillShapes,fillColors:jasFillColors,solid:[jasSolid1,jasSolid2,jasSolid3],dashed:jasDashed,dash:'11 5',cyan:jasCyan,labelText:jasLabelText,labelLat:jasLabelLat,labelTheta:jasLabelTheta,labelAngle:jasLabelAngle,labelColor:jasLabelColor,latLabels:latTickLabelsJas,barLeft:82,barRight:801,barTop:800.5,barBottom:847,barColors:jasColors,barLabels:jasLegendLabels,barSlots:jasLegendSlots,barBaseline:881});
drawPanel({id:'ond',left:1200,right:2014,top:185,bottom:692.5,background:'#e5c7b9',black:ondBlack,blackClosure:[[90,300]],blackFill:'#cdab84',fillShapes:ondFillShapes,fillColors:ondFillColors,extraBlack:[ondIsland],islandFill:'#cdab84',solid:[ondSolid1,ondSolid2],dashed:ondDashed,dash:'10 4.5',thin:[ondThin],mass:ondMass,cyan:ondCyan,labelText:ondLabelText,labelLat:ondLabelLat,labelTheta:ondLabelTheta,labelAngle:ondLabelAngle,labelColor:ondLabelColor,latLabels:latTickLabels,barLeft:1112,barRight:1831,barTop:800.5,barBottom:847,barColors:ondColors,barLabels:ondLegendLabels,barSlots:ondLegendSlots,barBaseline:881});
drawPanel({id:'jfm',left:164,right:977,top:1043,bottom:1551,background:'#dfbcab',black:jfmBlack,blackClosure:[[-90,700]],blackFill:'#fbfaf7',fillShapes:jfmFillShapes,fillColors:jfmFillColors,solid:[jfmSolid1,jfmSolid2],dashed:jfmDashed,dash:'12 6',thin:[jfmThin1],mass:jfmMass,cyan:jfmCyan,labelText:jfmLabelText,labelLat:jfmLabelLat,labelTheta:jfmLabelTheta,labelAngle:jfmLabelAngle,labelColor:jfmLabelColor,latLabels:latTickLabels,barLeft:76,barRight:795,barTop:1659,barBottom:1705.5,barColors:jfmColors,barLabels:jfmLegendLabels,barSlots:jfmLegendSlots,barBaseline:1741});
drawPanel({id:'amj',left:1200,right:2014,top:1043,bottom:1551,background:'#e5c7b9',black:amjBlack,blackClosure:[[-90,700]],blackFill:'#fbfaf7',fillShapes:amjFillShapes,fillColors:amjFillColors,solid:[amjSolid1],dashed:amjDashed,dash:'12 6',thin:[amjThin],cyan:amjCyan,labelText:amjLabelText,labelLat:amjLabelLat,labelTheta:amjLabelTheta,labelAngle:amjLabelAngle,labelColor:amjLabelColor,latLabels:latTickLabels,barLeft:1118,barRight:1837,barTop:1659,barBottom:1705.5,barColors:amjColors,barLabels:amjLegendLabels,barSlots:amjLegendSlots,barBaseline:1741});
</script>
</body>
</html>
